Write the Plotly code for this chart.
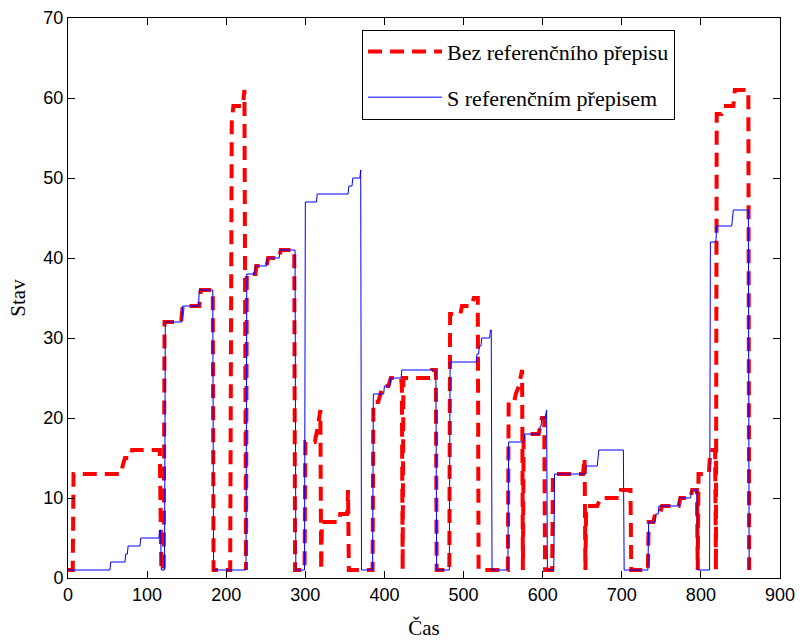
import plotly.graph_objects as go

# --- Data: "Bez referenčního přepisu" (red dashed) ---
t_bez = [0, 6, 7, 67, 69, 72, 79, 81, 116, 118, 121, 122, 143, 145, 166, 168, 183, 184,
         205, 207, 209, 221, 223, 224, 225, 226, 237, 238, 251, 253, 267, 269, 286, 287,
         299, 300, 312, 316, 318, 319, 320, 321, 343, 344, 353, 354, 355, 385, 386, 392,
         395, 398, 405, 408, 421, 422, 423, 424, 458, 460, 465, 466, 482, 483, 496, 498,
         510, 513, 518, 519, 556, 557, 564, 566, 570, 573, 574, 575, 576, 595, 597, 599,
         602, 603, 612, 613, 651, 652, 653, 654, 655, 669, 673, 698, 699, 711, 712, 733,
         734, 740, 742, 748, 751, 772, 774, 787, 789, 795, 796, 797, 810, 812, 818, 819,
         820, 826, 829, 841, 843, 860, 861]
v_bez = [1, 1, 13, 13, 14, 15, 15, 16, 16, 1, 1, 32, 32, 34, 34, 36, 36, 1,
         1, 57, 59, 59, 61, 1, 1, 38, 38, 39, 39, 40, 40, 41, 41, 1,
         1, 17, 17, 19, 21, 21, 1, 7, 7, 8, 8, 11, 1, 1, 22, 22,
         23, 24, 24, 25, 25, 24, 1, 25, 25, 26, 26, 1, 1, 33, 33, 34,
         34, 35, 35, 1, 1, 22, 22, 23, 24, 26, 26, 1, 18, 18, 19, 20,
         20, 1, 1, 13, 13, 14, 15, 1, 9, 9, 10, 10, 11, 11, 1, 1,
         7, 7, 8, 8, 9, 9, 10, 10, 11, 11, 1, 13, 13, 16, 16, 1,
         58, 58, 59, 59, 61, 61, 1]

# --- Data: "S referenčním přepisem" (blue solid) ---
t_s = [0, 53, 54, 72, 73, 75, 76, 91, 92, 115, 116, 117, 118, 122, 123, 144, 145, 165,
       166, 183, 184, 225, 226, 236, 237, 251, 252, 267, 268, 287, 288, 299, 300, 314,
       315, 354, 355, 359, 360, 369, 370, 371, 385, 386, 399, 400, 407, 408, 421, 422,
       465, 466, 482, 483, 516, 517, 519, 520, 522, 523, 533, 534, 535, 536, 556, 557,
       576, 577, 596, 597, 598, 599, 603, 605, 606, 614, 615, 654, 655, 669, 671, 702,
       703, 733, 734, 742, 743, 746, 747, 772, 773, 787, 788, 795, 796, 811, 812, 819,
       820, 839, 841, 860, 861]
v_s = [1, 1, 2, 2, 3, 3, 4, 4, 5, 5, 6, 6, 1, 1, 32, 32, 34, 34,
       36, 36, 1, 1, 38, 38, 39, 39, 40, 40, 41, 41, 1, 1, 47, 47,
       48, 48, 49, 49, 50, 50, 51, 1, 1, 23, 23, 24, 24, 25, 25, 26,
       26, 1, 1, 27, 27, 28, 28, 29, 29, 30, 30, 31, 31, 1, 1, 17,
       17, 18, 18, 19, 19, 20, 20, 21, 1, 1, 13, 13, 14, 14, 16, 16,
       1, 1, 7, 7, 8, 8, 9, 9, 10, 10, 11, 11, 1, 1, 42, 42,
       44, 44, 46, 46, 1]

assert len(t_bez) == len(v_bez)
assert len(t_s) == len(v_s)

x_ticks = [0, 100, 200, 300, 400, 500, 600, 700, 800, 900]
y_ticks = [0, 10, 20, 30, 40, 50, 60, 70]

SERIF = "Liberation Serif"
SANS = "Liberation Sans"

fig = go.Figure()
fig.add_trace(go.Scatter(
    x=t_bez, y=v_bez, mode="lines", name="Bez referenčního přepisu",
    legendgroup="a",
    line=dict(color="#ff0000", width=4, dash="14px,8px"),
))
fig.add_trace(go.Scatter(
    x=t_s, y=v_s, mode="lines", name="S referenčním přepisem",
    legendgroup="b",
    line=dict(color="#0000ff", width=1),
))

axis_common = dict(
    showgrid=False, zeroline=False, showline=True, linecolor="black", linewidth=1,
    mirror="ticks", ticks="inside", ticklen=7, tickcolor="black", tickwidth=1,
    tickfont=dict(family=SANS, size=18, color="black"), automargin=False,
)

fig.update_layout(
    width=803, height=640,
    margin=dict(l=68, r=23, t=18, b=62, pad=0),
    paper_bgcolor="white", plot_bgcolor="white",
    showlegend=True,
    legend=dict(
        x=0.413, y=0.979, xanchor="left", yanchor="top",
        bgcolor="white", bordercolor="black", borderwidth=1,
        font=dict(family=SERIF, size=22, color="black"),
        itemwidth=74, tracegroupgap=14, traceorder="grouped",
    ),
    xaxis=dict(range=[0, 900], tickvals=x_ticks, ticktext=[str(v) for v in x_ticks],
               title=dict(text="Čas", font=dict(family=SERIF, size=21, color="black"), standoff=16),
               **axis_common),
    yaxis=dict(range=[0, 70], tickvals=y_ticks, ticktext=[str(v) for v in y_ticks],
               title=dict(text="Stav", font=dict(family=SERIF, size=21, color="black"), standoff=12),
               **axis_common),
)

fig.write_html("out.html")
